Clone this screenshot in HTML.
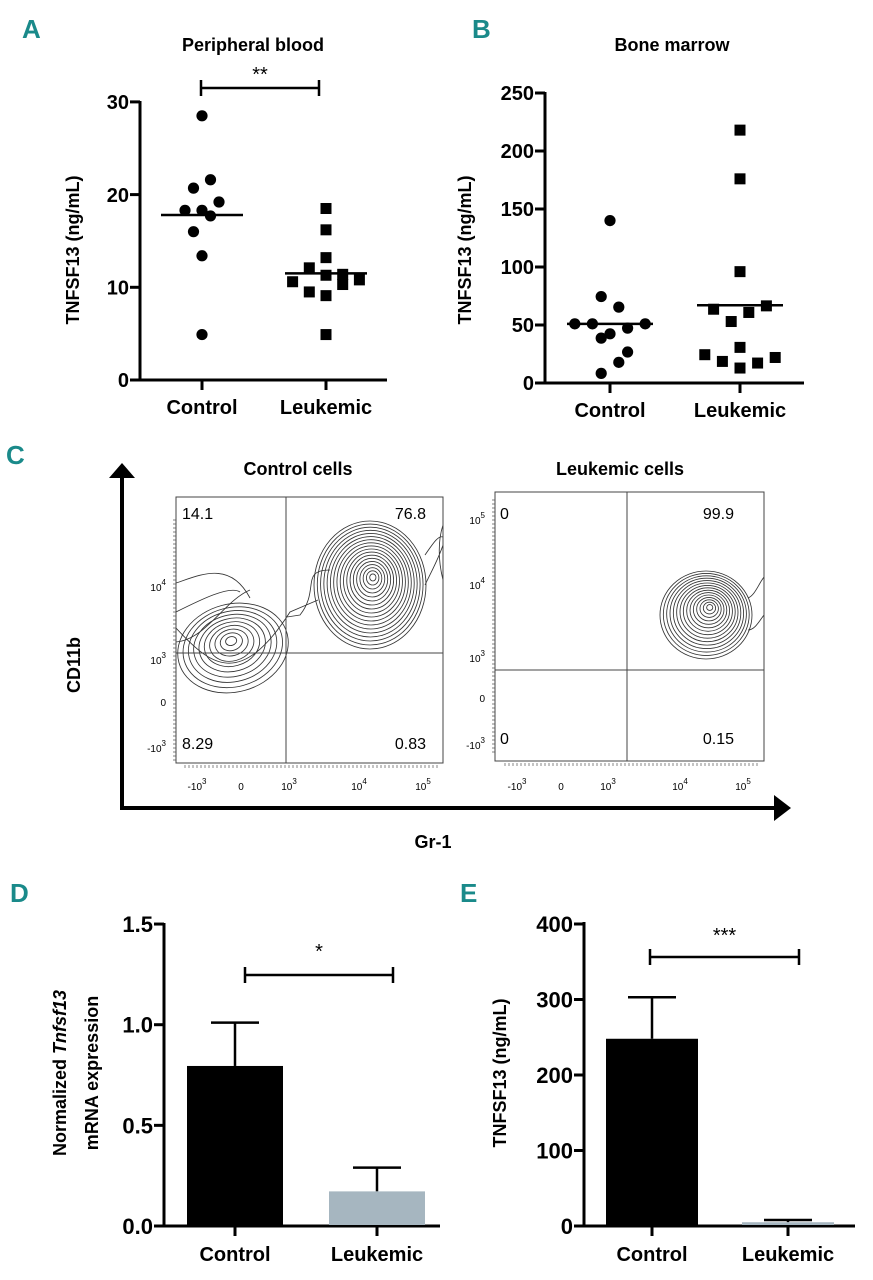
<!DOCTYPE html>
<html><head><meta charset="utf-8">
<style>
html,body{margin:0;padding:0;background:#fff;}
svg{display:block;}
text{font-family:"Liberation Sans",sans-serif;}
.b{font-weight:bold;}
.lt{font-family:"Liberation Sans Narrow","Liberation Sans",sans-serif;font-weight:bold;fill:#1a8a8a;font-size:26px;}
.ax{stroke:#000;stroke-width:3;fill:none;}
.fl{font-family:"Liberation Sans",sans-serif;font-size:10px;fill:#000;}
.q{font-size:16px;fill:#000;}
</style></head>
<body>
<svg id="fig" width="873" height="1280" viewBox="0 0 873 1280" xmlns="http://www.w3.org/2000/svg">
<text class="lt" x="22" y="38">A</text>
<text class="lt" x="472" y="38">B</text>
<text class="lt" x="6" y="464">C</text>
<text class="lt" x="10" y="902">D</text>
<text class="lt" x="460" y="902">E</text>

<g id="pa">
<text class="b" x="253" y="51" font-size="18" text-anchor="middle">Peripheral blood</text>
<text class="b" transform="translate(79,250) rotate(-90)" font-size="18" text-anchor="middle">TNFSF13 (ng/mL)</text>
</g>
<g id="pb">
<text class="b" x="672" y="51" font-size="18" text-anchor="middle">Bone marrow</text>
<text class="b" transform="translate(471,250) rotate(-90)" font-size="18" text-anchor="middle">TNFSF13 (ng/mL)</text>
</g>
<g id="pc">
<line x1="122" y1="476" x2="122" y2="810" stroke="#000" stroke-width="4"/>
<polygon points="109,478 135,478 122,463" fill="#000"/>
<line x1="120" y1="808" x2="776" y2="808" stroke="#000" stroke-width="4"/>
<polygon points="774,795 774,821 791,808" fill="#000"/>
<text class="b" transform="translate(80,665) rotate(-90)" font-size="18" text-anchor="middle">CD11b</text>
<text class="b" x="433" y="848" font-size="18" text-anchor="middle" style="font-family:'Liberation Sans Narrow','Liberation Sans',sans-serif">Gr-1</text>
<text class="b" x="298" y="475" font-size="18" text-anchor="middle" style="font-family:'Liberation Sans Narrow','Liberation Sans',sans-serif">Control cells</text>
<text class="b" x="620" y="475" font-size="18" text-anchor="middle" style="font-family:'Liberation Sans Narrow','Liberation Sans',sans-serif">Leukemic cells</text>
<g id="contours1"></g>
<g id="contours2"></g>
<rect x="176" y="497" width="267" height="266" fill="none" stroke="#444" stroke-width="1"/>
<line x1="286" y1="497" x2="286" y2="763" stroke="#444" stroke-width="1"/>
<line x1="176" y1="653" x2="443" y2="653" stroke="#444" stroke-width="1"/>
<rect x="495" y="492" width="269" height="269" fill="none" stroke="#444" stroke-width="1"/>
<line x1="627" y1="492" x2="627" y2="761" stroke="#444" stroke-width="1"/>
<line x1="495" y1="670" x2="764" y2="670" stroke="#444" stroke-width="1"/>
<text class="q" x="182" y="519">14.1</text>
<text class="q" x="426" y="519" text-anchor="end">76.8</text>
<text class="q" x="182" y="749">8.29</text>
<text class="q" x="426" y="749" text-anchor="end">0.83</text>
<text class="q" x="500" y="519">0</text>
<text class="q" x="734" y="519" text-anchor="end">99.9</text>
<text class="q" x="500" y="744">0</text>
<text class="q" x="734" y="744" text-anchor="end">0.15</text>
<g id="flowticks"></g>
</g>
<g id="pd">
<text class="b" transform="translate(66,1073) rotate(-90)" font-size="18" text-anchor="middle">Normalized <tspan font-style="italic">Tnfsf13</tspan></text>
<text class="b" transform="translate(98,1073) rotate(-90)" font-size="18" text-anchor="middle">mRNA expression</text>
</g>
<g id="pe">
<text class="b" transform="translate(506,1073) rotate(-90)" font-size="18" text-anchor="middle">TNFSF13 (ng/mL)</text>
</g>
</svg>
<script>
var categories = ["Control", "Leukemic"];
var aTicks = [0, 10, 20, 30];
var aControl = [28.5, 21.6, 20.7, 19.2, 18.3, 18.3, 17.7, 16.0, 13.4, 4.9];
var aLeukemic = [18.5, 16.2, 13.2, 12.1, 11.4, 11.3, 10.6, 10.3, 10.8, 9.5, 9.1, 4.9];
var aMedians = [17.8, 11.5];
var aControlJitter = [0, 1, -1, 2, -2, 0, 1, -1, 0, 0];
var aLeukemicJitter = [0, 0, 0, -1, 1, 0, -2, 1, 2, -1, 0, 0];
var bTicks = [0, 50, 100, 150, 200, 250];
var bControl = [140, 74.5, 65.4, 51, 51, 47.3, 51, 42.4, 38.7, 26.7, 17.8, 8.3];
var bLeukemic = [218, 176, 96, 63.6, 66.5, 60.8, 53, 30.7, 24.4, 22, 18.6, 17.2, 12.9];
var bMedians = [51, 67];
var bControlJitter = [0, -1, 1, -4, -2, 2, 4, 0, -1, 2, 1, -1];
var bLeukemicJitter = [0, 0, 0, -3, 3, 1, -1, 0, -4, 4, -2, 2, 0];
var dTicks = [0, 0.5, 1.0, 1.5];
var dTickLabels = ["0.0", "0.5", "1.0", "1.5"];
var dMeans = [0.795, 0.172];
var dErr = [1.01, 0.29];
var eTicks = [0, 100, 200, 300, 400];
var eMeans = [248, 5];
var eErr = [303, 8];
var barColors = ["#000000", "#a6b6c0"];

var NS = "http://www.w3.org/2000/svg";
function mk(parent, tag, attrs, txt) {
  var e = document.createElementNS(NS, tag);
  for (var k in attrs) e.setAttribute(k, attrs[k]);
  if (txt !== undefined) e.textContent = txt;
  parent.appendChild(e);
  return e;
}
var el;

function yAxis(g, ax, yTop, yBot, ticks, labels, yfn, fs, prefix) {
  el = mk(g, "line", {x1: ax, y1: yTop, x2: ax, y2: yBot, "class": "ax"});
  
  
  ticks.forEach(function (t, i) {
    el = mk(g, "line", {x1: ax - 10, y1: yfn(t), x2: ax, y2: yfn(t), "class": "ax"});
    
    
    el = mk(g, "text", {x: ax - 11, y: yfn(t) + fs * 0.36, "font-size": fs, "text-anchor": "end", "class": "b"}, labels[i]);
    
    
  });
}
function xAxis(g, ax, xEnd, y0, xs, fs, prefix, labY) {
  el = mk(g, "line", {x1: ax - 10, y1: y0, x2: xEnd, y2: y0, "class": "ax"});
  
  
  xs.forEach(function (x, i) {
    el = mk(g, "line", {x1: x, y1: y0, x2: x, y2: y0 + 10, "class": "ax"});
    
    
    el = mk(g, "text", {x: x, y: labY, "font-size": fs, "text-anchor": "middle", "class": "b"}, categories[i]);
    
    
  });
}
function bracket(g, x1, x2, y, star, sy, prefix) {
  el = mk(g, "path", {d: "M" + x1 + "," + (y - 8) + "V" + (y + 8) + "M" + x1 + "," + y + "H" + x2 + "M" + x2 + "," + (y - 8) + "V" + (y + 8), stroke: "#000", "stroke-width": 2.5, fill: "none"});
  
  
  el = mk(g, "text", {x: (x1 + x2) / 2, y: sy, "font-size": 20, "text-anchor": "middle"}, star);
  
  
}

var gA = document.getElementById("pa");
function yA(v) { return 380 - v * 9.27; }
var xA = [202, 326];
yAxis(gA, 140, 101, 381, aTicks, aTicks.map(String), yA, 20, "panel-a");
xAxis(gA, 140, 387, 380, xA, 20, "panel-a", 414);
bracket(gA, 201, 319, 88, "**", 81, "panel-a");
aControl.forEach(function (v, i) {
  el = mk(gA, "circle", {cx: xA[0] + aControlJitter[i] * 8.5, cy: yA(v), r: 5.6, fill: "#000"});
  
  
});
aLeukemic.forEach(function (v, i) {
  el = mk(gA, "rect", {x: xA[1] + aLeukemicJitter[i] * 16.7 - 5.5, y: yA(v) - 5.5, width: 11, height: 11, fill: "#000"});
  
  
});
aMedians.forEach(function (m, i) {
  el = mk(gA, "line", {x1: xA[i] - 41, y1: yA(m), x2: xA[i] + 41, y2: yA(m), stroke: "#000", "stroke-width": 2.5});
  
  
});

var gB = document.getElementById("pb");
function yB(v) { return 383 - v * 1.16; }
var xB = [610, 740];
yAxis(gB, 545, 92, 384, bTicks, bTicks.map(String), yB, 20, "panel-b");
xAxis(gB, 545, 804, 383, xB, 20, "panel-b", 417);
bControl.forEach(function (v, i) {
  el = mk(gB, "circle", {cx: xB[0] + bControlJitter[i] * 8.8, cy: yB(v), r: 5.6, fill: "#000"});
  
  
});
bLeukemic.forEach(function (v, i) {
  el = mk(gB, "rect", {x: xB[1] + bLeukemicJitter[i] * 8.8 - 5.5, y: yB(v) - 5.5, width: 11, height: 11, fill: "#000"});
  
  
});
bMedians.forEach(function (m, i) {
  el = mk(gB, "line", {x1: xB[i] - 43, y1: yB(m), x2: xB[i] + 43, y2: yB(m), stroke: "#000", "stroke-width": 2.5});
  
  
});

var gD = document.getElementById("pd");
function yD(v) { return 1226 - v * 201.3; }
var xD = [235, 377];
yAxis(gD, 164, 923, 1227, dTicks, dTickLabels, yD, 22, "panel-d");
xAxis(gD, 164, 440, 1226, xD, 20, "panel-d", 1261);
dMeans.forEach(function (m, i) {
  el = mk(gD, "line", {x1: xD[i], y1: yD(dErr[i]), x2: xD[i], y2: yD(m), stroke: "#000", "stroke-width": 2.5});
  
  
  el = mk(gD, "line", {x1: xD[i] - 24, y1: yD(dErr[i]), x2: xD[i] + 24, y2: yD(dErr[i]), stroke: "#000", "stroke-width": 2.5});
  
  
  el = mk(gD, "rect", {x: xD[i] - 48, y: yD(m), width: 96, height: yD(0) - yD(m) - 1, fill: barColors[i]});
  
  
});
bracket(gD, 245, 393, 975, "*", 958, "panel-d");

var gE = document.getElementById("pe");
function yE(v) { return 1226 - v * 0.755; }
var xE = [652, 788];
yAxis(gE, 584, 922, 1227, eTicks, eTicks.map(String), yE, 22, "panel-e");
xAxis(gE, 584, 855, 1226, xE, 20, "panel-e", 1261);
eMeans.forEach(function (m, i) {
  el = mk(gE, "line", {x1: xE[i], y1: yE(eErr[i]), x2: xE[i], y2: yE(m), stroke: "#000", "stroke-width": 2.5});
  
  
  el = mk(gE, "line", {x1: xE[i] - 24, y1: yE(eErr[i]), x2: xE[i] + 24, y2: yE(eErr[i]), stroke: "#000", "stroke-width": 2.5});
  
  
  el = mk(gE, "rect", {x: xE[i] - 46, y: yE(m), width: 92, height: Math.max(1, yE(0) - yE(m) - 1), fill: barColors[i]});
  
  
});
bracket(gE, 650, 799, 957, "***", 942, "panel-e");

var c1 = document.getElementById("contours1");
var c2 = document.getElementById("contours2");
var clip = mk(document.getElementById("fig"), "clipPath", {id: "clipC1"});
mk(clip, "rect", {x: 176, y: 497, width: 267, height: 266});
var clip2 = mk(document.getElementById("fig"), "clipPath", {id: "clipC2"});
mk(clip2, "rect", {x: 495, y: 492, width: 269, height: 269});
c1.setAttribute("clip-path", "url(#clipC1)");
c2.setAttribute("clip-path", "url(#clipC2)");
function rings(g, cx, cy, rx, ry, n, rot, name, skew) {
  for (var k = 0; k < n; k++) {
    var f = (k + 1) / n;
    var ox = (1 - f) * (skew || 0);
    el = mk(g, "ellipse", {cx: cx + ox, cy: cy - (1 - f) * 8, rx: rx * f, ry: ry * f, fill: "none", stroke: "#333", "stroke-width": 0.85, transform: "rotate(" + rot + " " + cx + " " + cy + ")"});
    
    
  }
}
el = mk(c1, "path", {d: "M176,612 C200,600 230,585 240,592 M176,628 C210,665 240,690 290,612 L318,600 M176,642 C205,640 225,600 250,590 M287,617 L300,615 C320,590 300,570 330,570 M176,583 C200,575 230,560 250,598", fill: "none", stroke: "#333", "stroke-width": 0.85});


el = mk(c1, "path", {d: "M425,585 C432,570 438,560 443,545 M425,555 C432,545 438,535 443,537 M443,580 C438,560 438,540 443,525", fill: "none", stroke: "#333", "stroke-width": 0.85});


rings(c1, 233, 648, 56, 44, 10, -15, 'control-left-population-contour', 0);
rings(c1, 370, 585, 56, 64, 18, 0, 'control-right-population-contour', 3);
rings(c2, 706, 615, 46, 44, 15, 0, 'leukemic-population-contour', 4);
el = mk(c2, "path", {d: "M748,598 C755,595 758,585 764,577 M748,630 C755,630 760,620 764,615", fill: "none", stroke: "#333", "stroke-width": 0.85});



var ft = document.getElementById("flowticks");
var flowYLabels1 = [["10", "4", 587], ["10", "3", 660], ["0", "", 702], ["-10", "3", 748]];
var flowYLabels2 = [["10", "5", 520], ["10", "4", 585], ["10", "3", 658], ["0", "", 698], ["-10", "3", 745]];
var flowXLabels1 = [["-10", "3", 197], ["0", "", 241], ["10", "3", 289], ["10", "4", 359], ["10", "5", 423]];
var flowXLabels2 = [["-10", "3", 517], ["0", "", 561], ["10", "3", 608], ["10", "4", 680], ["10", "5", 743]];
function flowLab(x, y, l, anchor) {
  el = mk(ft, "text", {x: x, y: y, "class": "fl", "text-anchor": anchor});
  
  
  mk(el, "tspan", {}, l[0]);
  if (l[1]) { mk(el, "tspan", {dy: -6, "font-size": 8}, l[1]); }
}
flowYLabels1.forEach(function (l) { flowLab(166, l[2] + 4, l, "end"); });
flowYLabels2.forEach(function (l) { flowLab(485, l[2] + 4, l, "end"); });
flowXLabels1.forEach(function (l) { flowLab(l[2], 790, l, "middle"); });
flowXLabels2.forEach(function (l) { flowLab(l[2], 790, l, "middle"); });
function ticksAlong(x1, x2, y, vertical) {
  var p = "";
  for (var t = x1; t <= x2; t += 4) {
    p += vertical ? ("M" + y + "," + t + "h-3") : ("M" + t + "," + y + "v3");
  }
  el = mk(ft, "path", {d: p, stroke: "#555", "stroke-width": 0.7});
  
  
}
ticksAlong(185, 440, 765, false);
ticksAlong(505, 760, 763, false);
ticksAlong(520, 760, 176, true);
ticksAlong(500, 755, 495, true);
</script>
</body></html>
